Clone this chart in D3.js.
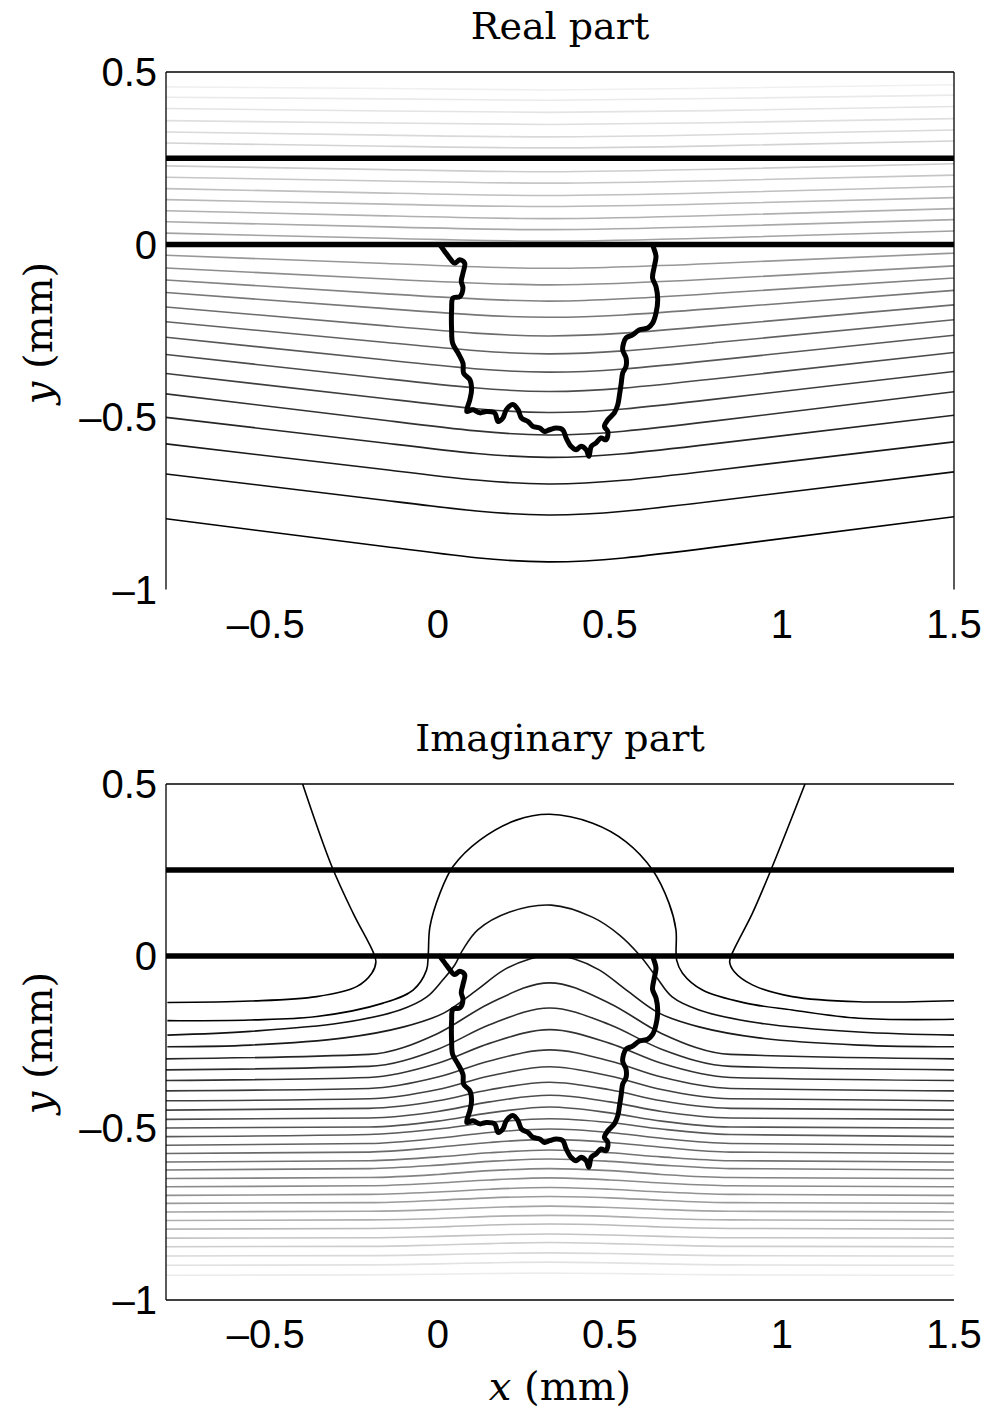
<!DOCTYPE html>
<html><head><meta charset="utf-8">
<script src="https://cdn.jsdelivr.net/npm/d3@7"></script>
<style>body{margin:0;background:#fff}</style></head>
<body>
<svg id="c" width="989" height="1414"></svg>
<script>
// ---------- data ----------
const xTicks = [-0.5, 0, 0.5, 1, 1.5];
const yTicks = [0.5, 0, -0.5, -1];
const layerY = [0.25, 0];
const titles = ["Real part", "Imaginary part"];

// inclusion boundary (mm)
const inclX = [0.006,0.020,0.035,0.049,0.064,0.078,0.073,0.068,0.073,0.064,0.044,0.040,0.040,0.043,0.059,0.073,0.075,0.093,0.098,0.093,0.084,0.102,0.122,0.141,0.165,0.175,0.189,0.199,0.218,0.233,0.243,0.262,0.276,0.296,0.310,0.325,0.344,0.363,0.373,0.387,0.402,0.416,0.431,0.439,0.446,0.460,0.474,0.489,0.494,0.484,0.494,0.513,0.523,0.528,0.533,0.537,0.547,0.547,0.537,0.547,0.566,0.586,0.610,0.624,0.634,0.639,0.634,0.624,0.629,0.634,0.629,0.624];
const inclY = [-0.001,-0.020,-0.040,-0.054,-0.044,-0.054,-0.083,-0.107,-0.126,-0.151,-0.155,-0.189,-0.247,-0.286,-0.315,-0.344,-0.373,-0.392,-0.421,-0.450,-0.484,-0.479,-0.488,-0.484,-0.488,-0.513,-0.503,-0.479,-0.464,-0.479,-0.503,-0.513,-0.527,-0.532,-0.542,-0.537,-0.532,-0.537,-0.561,-0.585,-0.595,-0.585,-0.595,-0.614,-0.585,-0.575,-0.561,-0.566,-0.542,-0.527,-0.508,-0.488,-0.464,-0.435,-0.402,-0.373,-0.353,-0.329,-0.305,-0.271,-0.262,-0.247,-0.242,-0.228,-0.199,-0.160,-0.122,-0.097,-0.064,-0.035,-0.015,-0.001];

// real part contours: y at these x
const realX = [-0.79, -0.15, 0.32, 0.8, 1.5];
const realLevels = [
 [0.457,0.452,0.448,0.453,0.463],
 [0.427,0.422,0.418,0.423,0.433],
 [0.394,0.387,0.383,0.388,0.400],
 [0.359,0.352,0.348,0.353,0.365],
 [0.326,0.317,0.312,0.318,0.332],
 [0.294,0.285,0.280,0.286,0.300],
 [0.228,0.217,0.211,0.218,0.234],
 [0.195,0.184,0.178,0.185,0.201],
 [0.162,0.149,0.142,0.150,0.168],
 [0.130,0.117,0.110,0.118,0.136],
 [0.098,0.083,0.075,0.084,0.104],
 [0.066,0.051,0.043,0.052,0.072],
 [0.033,0.018,0.010,0.019,0.039],
 [-0.031,-0.055,-0.069,-0.055,-0.025],
 [-0.068,-0.100,-0.117,-0.100,-0.062],
 [-0.103,-0.143,-0.164,-0.142,-0.097],
 [-0.139,-0.186,-0.211,-0.186,-0.133],
 [-0.181,-0.236,-0.265,-0.236,-0.175],
 [-0.224,-0.284,-0.317,-0.285,-0.218],
 [-0.269,-0.335,-0.370,-0.336,-0.263],
 [-0.319,-0.389,-0.426,-0.390,-0.313],
 [-0.374,-0.447,-0.487,-0.449,-0.368],
 [-0.433,-0.510,-0.552,-0.512,-0.427],
 [-0.501,-0.576,-0.617,-0.578,-0.495],
 [-0.578,-0.653,-0.694,-0.655,-0.572],
 [-0.665,-0.742,-0.784,-0.744,-0.659],
 [-0.795,-0.876,-0.920,-0.878,-0.789]
];

// imaginary part: special contours (x, y pairs)
const imLeftX  = [-0.786,-0.545,-0.352,-0.236,-0.192,-0.180,-0.187,-0.246,-0.308,-0.393];
const imLeftY  = [-0.135,-0.131,-0.118,-0.089,-0.050,-0.017,0.009,0.124,0.260,0.5];
const imRightX = [1.5,1.223,1.030,0.914,0.861,0.848,0.856,0.914,0.972,1.067];
const imRightY = [-0.130,-0.133,-0.118,-0.084,-0.045,-0.017,0.009,0.124,0.260,0.5];
const arc1X = [-0.786,-0.545,-0.352,-0.159,-0.072,-0.033,-0.028,-0.023,0.006,0.044,0.122,0.228,0.325,0.450,0.547,0.624,0.672,0.692,0.694,0.711,0.769,0.895,1.030,1.223,1.5];
const arc1Y = [-0.188,-0.186,-0.176,-0.137,-0.099,-0.041,0.003,0.085,0.182,0.260,0.337,0.395,0.412,0.386,0.332,0.250,0.153,0.076,-0.012,-0.050,-0.099,-0.137,-0.157,-0.181,-0.184];
const arc2X = [-0.786,-0.545,-0.284,-0.110,-0.032,0.014,0.049,0.072,0.116,0.209,0.330,0.449,0.528,0.586,0.635,0.681,0.759,0.933,1.223,1.5];
const arc2Y = [-0.230,-0.219,-0.195,-0.157,-0.119,-0.070,-0.026,0.017,0.076,0.128,0.148,0.113,0.061,0.003,-0.061,-0.119,-0.157,-0.195,-0.221,-0.230];
const arc3X = [-0.786,-0.545,-0.272,-0.099,0.017,0.113,0.191,0.267,0.330,0.397,0.470,0.548,0.643,0.759,0.933,1.223,1.5];
const arc3Y = [-0.264,-0.259,-0.238,-0.206,-0.166,-0.099,-0.041,-0.009,0.003,-0.009,-0.041,-0.099,-0.166,-0.206,-0.238,-0.259,-0.264];

// imaginary part: bump contours, y at these x
const imagX = [-0.79, -0.2, 0.0, 0.15, 0.325, 0.5, 0.65, 0.85, 1.5];
const imagLevels = [
 [-0.299,-0.286,-0.225,-0.138,-0.078,-0.138,-0.225,-0.286,-0.299],
 [-0.331,-0.321,-0.271,-0.200,-0.151,-0.200,-0.271,-0.321,-0.331],
 [-0.362,-0.353,-0.312,-0.254,-0.214,-0.254,-0.312,-0.353,-0.362],
 [-0.392,-0.385,-0.352,-0.305,-0.273,-0.305,-0.352,-0.385,-0.392],
 [-0.421,-0.415,-0.388,-0.349,-0.322,-0.349,-0.388,-0.415,-0.421],
 [-0.448,-0.443,-0.421,-0.389,-0.367,-0.389,-0.421,-0.443,-0.448],
 [-0.475,-0.471,-0.452,-0.424,-0.405,-0.424,-0.452,-0.471,-0.475],
 [-0.500,-0.497,-0.480,-0.456,-0.439,-0.456,-0.480,-0.497,-0.500],
 [-0.525,-0.519,-0.503,-0.484,-0.473,-0.484,-0.503,-0.519,-0.525],
 [-0.550,-0.545,-0.530,-0.513,-0.503,-0.513,-0.530,-0.545,-0.550],
 [-0.574,-0.570,-0.556,-0.542,-0.533,-0.542,-0.556,-0.570,-0.574],
 [-0.599,-0.595,-0.584,-0.572,-0.564,-0.572,-0.584,-0.595,-0.599],
 [-0.622,-0.618,-0.608,-0.597,-0.590,-0.597,-0.608,-0.618,-0.622],
 [-0.647,-0.644,-0.635,-0.624,-0.618,-0.624,-0.635,-0.644,-0.647],
 [-0.671,-0.668,-0.660,-0.651,-0.645,-0.651,-0.660,-0.668,-0.671],
 [-0.696,-0.693,-0.686,-0.678,-0.673,-0.678,-0.686,-0.693,-0.696],
 [-0.719,-0.717,-0.710,-0.703,-0.699,-0.703,-0.710,-0.717,-0.719],
 [-0.744,-0.742,-0.737,-0.731,-0.727,-0.731,-0.737,-0.742,-0.744],
 [-0.769,-0.767,-0.763,-0.757,-0.754,-0.757,-0.763,-0.767,-0.769],
 [-0.794,-0.792,-0.788,-0.782,-0.779,-0.782,-0.788,-0.792,-0.794],
 [-0.820,-0.819,-0.815,-0.811,-0.808,-0.811,-0.815,-0.819,-0.820],
 [-0.845,-0.844,-0.840,-0.836,-0.833,-0.836,-0.840,-0.844,-0.845],
 [-0.872,-0.871,-0.868,-0.865,-0.863,-0.865,-0.868,-0.871,-0.872],
 [-0.899,-0.898,-0.895,-0.892,-0.890,-0.892,-0.895,-0.898,-0.899],
 [-0.928,-0.927,-0.925,-0.923,-0.922,-0.923,-0.925,-0.927,-0.928]
];

// ---------- drawing ----------
const svg = d3.select("#c");
const L = 166, R = 954;
const x = d3.scaleLinear().domain([-0.79, 1.5]).range([L, R]);
const panels = [
  {top: 72, bot: 589.5, title: titles[0], titleY: 39, tickY: 638, labelCY: 333, box: {t:1,l:1,r:1,b:0}},
  {top: 784, bot: 1300, title: titles[1], titleY: 751, tickY: 1348, labelCY: 1043, box: {t:1,l:1,r:0,b:1}}
];
const fmt = d => (d < 0 ? "\u2013" + Math.abs(d) : String(d));
const sans = "'Liberation Sans', Arial, Helvetica, sans-serif";
const serif = "'DejaVu Serif', 'Liberation Serif', serif";

panels.forEach((p, pi) => {
  const y = d3.scaleLinear().domain([-1, 0.5]).range([p.bot, p.top]);
  const g = svg.append("g");
  const cid = "clip" + pi;
  svg.append("clipPath").attr("id", cid).append("rect")
    .attr("x", L).attr("y", p.top).attr("width", R - L).attr("height", p.bot - p.top);
  const plot = g.append("g").attr("clip-path", `url(#${cid})`);

  const lineNat = d3.line().x(d => x(d[0])).y(d => y(d[1])).curve(d3.curveNatural);
  const lineMono = d3.line().x(d => x(d[0])).y(d => y(d[1])).curve(d3.curveMonotoneX);
  const lineCR = d3.line().x(d => x(d[0])).y(d => y(d[1])).curve(d3.curveCatmullRom.alpha(0.5));

  if (pi === 0) {
    const col = d3.scaleLinear().domain([0, 6, 12, 19, 26])
      .range(["#f0f0f0", "#cdcdcd", "#a2a2a2", "#575757", "#000000"]);
    realLevels.forEach((lv, i) => {
      plot.append("path").datum(realX.map((xv, k) => [xv, lv[k]]))
        .attr("d", lineNat).attr("fill", "none")
        .attr("stroke", col(i)).attr("stroke-width", 1.6);
    });
  } else {
    const col = d3.scaleLinear().domain([0, 8, 16, 24])
      .range(["#262626", "#5a5a5a", "#9a9a9a", "#ececec"]);
    imagLevels.forEach((lv, i) => {
      plot.append("path").datum(imagX.map((xv, k) => [xv, lv[k]]))
        .attr("d", lineMono).attr("fill", "none")
        .attr("stroke", col(i)).attr("stroke-width", 1.6);
    });
    [[imLeftX, imLeftY, "#000"], [imRightX, imRightY, "#000"], [arc1X, arc1Y, "#000"],
     [arc2X, arc2Y, "#111"], [arc3X, arc3Y, "#1a1a1a"]].forEach(([xs, ys, c]) => {
      plot.append("path").datum(xs.map((xv, k) => [xv, ys[k]]))
        .attr("d", lineCR).attr("fill", "none").attr("stroke", c).attr("stroke-width", 1.6);
    });
  }

  // layer interfaces
  layerY.forEach(v => {
    plot.append("line").attr("x1", L).attr("x2", R).attr("y1", y(v)).attr("y2", y(v))
      .attr("stroke", "#000").attr("stroke-width", 5.5);
  });

  // inclusion
  plot.append("path").datum(inclX.map((xv, k) => [xv, inclY[k]]))
    .attr("d", lineCR)
    .attr("fill", "none").attr("stroke", "#000").attr("stroke-width", 5)
    .attr("stroke-linejoin", "round").attr("stroke-linecap", "round");

  // box
  const bx = g.append("g").attr("stroke", "#000").attr("stroke-width", 1.3);
  if (p.box.t) bx.append("line").attr("x1", L).attr("x2", R).attr("y1", p.top).attr("y2", p.top);
  if (p.box.l) bx.append("line").attr("x1", L).attr("x2", L).attr("y1", p.top).attr("y2", p.bot);
  if (p.box.r) bx.append("line").attr("x1", R).attr("x2", R).attr("y1", p.top).attr("y2", p.bot);
  if (p.box.b) bx.append("line").attr("x1", L).attr("x2", R).attr("y1", p.bot).attr("y2", p.bot);

  // tick labels
  g.selectAll(".yt").data(yTicks).join("text")
    .attr("x", 157).attr("y", d => y(d)).attr("dy", "0.36em")
    .attr("text-anchor", "end").attr("font-family", sans).attr("font-size", 40)
    .text(fmt);
  g.selectAll(".xt").data(xTicks).join("text")
    .attr("x", d => x(d)).attr("y", p.tickY)
    .attr("text-anchor", "middle").attr("font-family", sans).attr("font-size", 40)
    .text(fmt);

  // title
  g.append("text").attr("x", 560).attr("y", p.titleY).attr("text-anchor", "middle")
    .attr("font-family", serif).attr("font-size", 38).text(p.title);

  // y label
  const yl = g.append("text").attr("transform", `translate(52,${p.labelCY}) rotate(-90)`)
    .attr("text-anchor", "middle").attr("font-family", serif).attr("font-size", 40);
  yl.append("tspan").attr("font-style", "italic").text("y");
  yl.append("tspan").text(" (mm)");
});

// x label
const xl = svg.append("text").attr("x", 560).attr("y", 1400).attr("text-anchor", "middle")
  .attr("font-family", serif).attr("font-size", 40);
xl.append("tspan").attr("font-style", "italic").text("x");
xl.append("tspan").text(" (mm)");
</script>
</body></html>
